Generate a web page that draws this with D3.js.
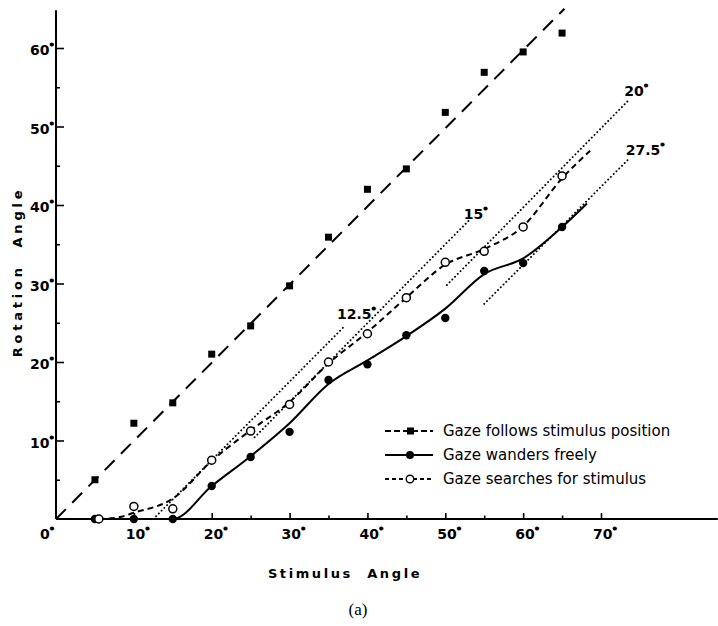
<!DOCTYPE html>
<html>
<head>
<meta charset="utf-8">
<script src="https://cdn.jsdelivr.net/npm/d3@7"></script>
<style>
  body { margin: 0; background: #fff; }
  svg { display: block; }
  .tick-label { font-family: "DejaVu Sans", sans-serif; font-weight: bold; font-size: 14px; }
  .title { font-family: "DejaVu Sans", sans-serif; font-weight: bold; font-size: 13px; }
  .legend text { font-family: "DejaVu Sans", sans-serif; font-size: 15px; }
</style>
</head>
<body>
<script>
//stimulus angles where the data were taken
var angles = [5, 10, 15, 20, 25, 30, 35, 40, 45, 50, 55, 60, 65];

//gaze follows stimulus position (squares)
var followsValues = [5.0, 12.2, 14.8, 21.0, 24.6, 29.7, 35.9, 42.0, 44.6, 51.8, 56.9, 59.5, 61.9];
//gaze wanders freely (filled circles)
var wandersValues = [0, 0, 0, 4.2, 7.9, 11.1, 17.7, 19.7, 23.4, 25.6, 31.6, 32.6, 37.2];
//gaze searches for stimulus (open circles)
var searchAngles = [5.5, 10, 15, 20, 25, 30, 35, 40, 45, 50, 55, 60, 65];
var searchValues = [0, 1.6, 1.3, 7.5, 11.2, 14.6, 20.0, 23.6, 28.2, 32.7, 34.1, 37.2, 43.7];

//hand drawn curves through the points
var followsLine = [[0, 0], [65.3, 65]];
var wandersCurve = [[5, 0], [15, 0], [20, 4.2], [25, 8.0], [30, 12.2], [35, 17.2], [40, 20.2],
    [45, 23.3], [50, 26.8], [55, 31.2], [60, 33.2], [65, 37.2], [68.2, 40.2]];
var searchCurve = [[5.5, 0], [8, 0.2], [10, 0.8], [15, 2.6], [20, 7.4], [25, 11.3], [30, 14.9],
    [35, 19.8], [40, 23.8], [45, 28.2], [50, 32.4], [55, 34.4], [60, 37.3], [65, 43.4], [68.6, 46.9]];

//dotted reference lines, offset between stimulus and rotation
var refLabels = ["12.5", "15", "20", "27.5"];
var refStart = [[12.5, 0], [25.5, 10.4], [50.2, 29.8], [55, 27.4]];
var refEnd = [[37, 24.5], [53, 38], [73.5, 53.3], [73.7, 46]];

//axis ticks
var xMajor = [10, 20, 30, 40, 50, 60, 70];
var xMinor = [15, 25, 35, 45, 55, 65];
var yMajor = [10, 20, 30, 40, 50, 60];
var yMinor = [5, 15, 25, 35, 45, 55];

var legendNames = ["Gaze follows stimulus position", "Gaze wanders freely", "Gaze searches for stimulus"];

window.onload = drawChart();

function drawChart(){
    var width = 718,
        height = 626;

    var svg = d3.select("body")
        .append("svg")
        .attr("width", width)
        .attr("height", height);

    var x = d3.scaleLinear().domain([0, 70]).range([56, 601]);
    var y = d3.scaleLinear().domain([0, 60]).range([519, 48]);

    //axis lines
    svg.append("line")
        .attr("x1", x(0)).attr("y1", y(0))
        .attr("x2", x(85)).attr("y2", y(0))
        .attr("stroke", "#000").attr("stroke-width", 2);
    svg.append("line")
        .attr("x1", x(0)).attr("y1", y(0))
        .attr("x2", x(0)).attr("y2", y(64.8))
        .attr("stroke", "#000").attr("stroke-width", 2);

    //ticks pointing inward
    function ticks(g){ g.select(".domain").remove(); g.selectAll("line").attr("stroke-width", 1.6); }
    svg.append("g").attr("transform", "translate(0," + y(0) + ")")
        .call(d3.axisBottom(x).tickValues(xMajor).tickSize(-6).tickFormat("")).call(ticks);
    svg.append("g").attr("transform", "translate(0," + y(0) + ")")
        .call(d3.axisBottom(x).tickValues(xMinor).tickSize(-3.5).tickFormat("")).call(ticks);
    svg.append("g").attr("transform", "translate(" + x(0) + ",0)")
        .call(d3.axisLeft(y).tickValues(yMajor).tickSize(-8).tickFormat("")).call(ticks);
    svg.append("g").attr("transform", "translate(" + x(0) + ",0)")
        .call(d3.axisLeft(y).tickValues(yMinor).tickSize(-4).tickFormat("")).call(ticks);

    //degree label helper: number plus a heavy raised degree sign
    function degText(sel){
        sel.text(function(d){ return d.label; })
            .append("tspan")
            .attr("dy", -5)
            .attr("font-size", 9)
            .attr("stroke", "#000")
            .attr("stroke-width", 1.3)
            .text("°");
    }

    svg.selectAll(".xlab")
        .data([0].concat(xMajor))
        .enter().append("text")
        .attr("class", "tick-label")
        .attr("x", function(d){ return x(d) - (d == 0 ? 16 : 8); })
        .attr("y", 539)
        .datum(function(d){ return {label: String(d)}; })
        .call(degText);

    svg.selectAll(".ylab")
        .data(yMajor)
        .enter().append("text")
        .attr("class", "tick-label")
        .attr("text-anchor", "end")
        .attr("x", 54)
        .attr("y", function(d){ return y(d) + 7; })
        .datum(function(d){ return {label: String(d)}; })
        .call(degText);

    //axis titles
    svg.append("text")
        .attr("class", "title")
        .attr("text-anchor", "middle")
        .attr("letter-spacing", 3.8)
        .attr("transform", "translate(22,272) rotate(-90)")
        .attr("xml:space", "preserve")
        .text("Rotation  Angle");
    svg.append("text")
        .attr("class", "title")
        .attr("text-anchor", "middle")
        .attr("letter-spacing", 2.6)
        .attr("x", 345).attr("y", 578)
        .attr("xml:space", "preserve")
        .text("Stimulus  Angle");
    svg.append("text")
        .attr("text-anchor", "middle")
        .attr("x", 358).attr("y", 615)
        .attr("font-family", "Liberation Serif, serif")
        .attr("font-size", 17)
        .text("(a)");

    var line = d3.line().x(function(d){ return x(d[0]); }).y(function(d){ return y(d[1]); });
    var curve = d3.line().curve(d3.curveMonotoneX)
        .x(function(d){ return x(d[0]); }).y(function(d){ return y(d[1]); });

    //dotted reference lines
    svg.selectAll(".ref")
        .data(refStart)
        .enter().append("path")
        .attr("d", function(d, i){ return line([d, refEnd[i]]); })
        .attr("fill", "none").attr("stroke", "#000")
        .attr("stroke-width", 1.9)
        .attr("stroke-linecap", "round")
        .attr("stroke-dasharray", "0.1,3.8");

    var refPos = [[-7, -8], [-5, -2], [-4, -5], [-4, -3]];
    svg.selectAll(".reflab")
        .data(refEnd)
        .enter().append("text")
        .attr("class", "tick-label")
        .attr("x", function(d, i){ return x(d[0]) + refPos[i][0]; })
        .attr("y", function(d, i){ return y(d[1]) + refPos[i][1]; })
        .datum(function(d, i){ return {label: refLabels[i]}; })
        .call(degText);

    //series lines
    svg.append("path").attr("d", line(followsLine))
        .attr("fill", "none").attr("stroke", "#000").attr("stroke-width", 2)
        .attr("stroke-dasharray", "14,9");
    svg.append("path").attr("d", curve(wandersCurve))
        .attr("fill", "none").attr("stroke", "#000").attr("stroke-width", 2);
    svg.append("path").attr("d", curve(searchCurve))
        .attr("fill", "none").attr("stroke", "#000").attr("stroke-width", 2)
        .attr("stroke-dasharray", "6,4");

    //markers
    svg.selectAll(".sq")
        .data(angles)
        .enter().append("rect")
        .attr("x", function(d){ return x(d) - 3.5; })
        .attr("y", function(d, i){ return y(followsValues[i]) - 3.5; })
        .attr("width", 7).attr("height", 7)
        .attr("fill", "#000");
    svg.selectAll(".dot")
        .data(angles)
        .enter().append("circle")
        .attr("cx", function(d){ return x(d); })
        .attr("cy", function(d, i){ return y(wandersValues[i]); })
        .attr("r", 4.2)
        .attr("fill", "#000");
    svg.selectAll(".ring")
        .data(searchAngles)
        .enter().append("circle")
        .attr("cx", function(d){ return x(d); })
        .attr("cy", function(d, i){ return y(searchValues[i]); })
        .attr("r", 4)
        .attr("fill", "#fff")
        .attr("stroke", "#000").attr("stroke-width", 1.5);

    //legend
    var legend = svg.append("g").attr("class", "legend");
    var rows = [431, 455, 479];
    legendNames.forEach(function(name, i){
        var g = legend.append("g").attr("transform", "translate(0," + rows[i] + ")");
        var ln = g.append("line")
            .attr("x1", 385).attr("x2", 433)
            .attr("stroke", "#000").attr("stroke-width", 1.8);
        if (i == 0) ln.attr("stroke-dasharray", "6,3");
        if (i == 2) ln.attr("stroke-dasharray", "4,3");
        if (i == 0) g.append("rect").attr("x", 407).attr("y", -3.5).attr("width", 7).attr("height", 7);
        if (i == 1) g.append("circle").attr("cx", 410).attr("r", 4);
        if (i == 2) g.append("circle").attr("cx", 410).attr("r", 3.8)
            .attr("fill", "#fff").attr("stroke", "#000").attr("stroke-width", 1.4);
        g.append("text").attr("x", 443).attr("y", 5).text(name);
    });
}
</script>
</body>
</html>
